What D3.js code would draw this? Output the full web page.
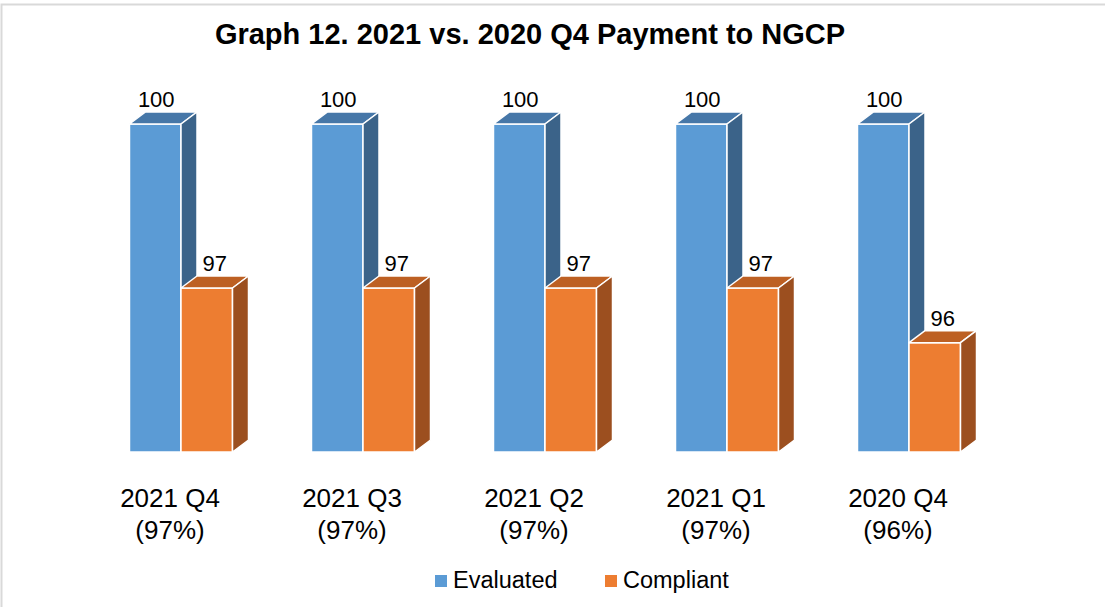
<!DOCTYPE html>
<html>
<head>
<meta charset="utf-8">
<script src="https://cdn.jsdelivr.net/npm/d3@7"></script>
<style>
    html, body { margin: 0; padding: 0; background: #fff; }
    svg { display: block; font-family: "Liberation Sans", Arial, sans-serif; }
</style>
</head>
<body>
<div id="chart"></div>
<script>
// Chart data
const categories = ["2021 Q4", "2021 Q3", "2021 Q2", "2021 Q1", "2020 Q4"];
const subLabels = ["(97%)", "(97%)", "(97%)", "(97%)", "(96%)"];
const seriesNames = ["Evaluated", "Compliant"];
const evaluated = [100, 100, 100, 100, 100];
const compliant = [97, 97, 97, 97, 96];

const width = 1105;
const height = 607;

// face colours per series: front, top, side
const colors = {
    Evaluated: { front: "#5b9bd5", top: "#4677a8", side: "#3b6389" },
    Compliant: { front: "#ed7d31", top: "#bd6023", side: "#9c4f1f" }
};

const depthX = 16;
const depthY = 12;

const svg = d3.select("#chart")
    .append("svg")
    .attr("width", width)
    .attr("height", height);

// outer frame
svg.append("rect")
    .attr("x", 1.5)
    .attr("y", 4.5)
    .attr("width", width + 10)
    .attr("height", height + 10)
    .attr("fill", "none")
    .attr("stroke", "#d9d9d9")
    .attr("stroke-width", 2);

svg.append("text")
    .attr("x", 530)
    .attr("y", 44)
    .attr("text-anchor", "middle")
    .attr("font-size", "29px")
    .attr("font-weight", "bold")
    .text("Graph 12. 2021 vs. 2020 Q4 Payment to NGCP");

// Scales
const x0 = d3.scaleBand()
    .domain(categories)
    .range([90, 1000])
    .paddingInner(0.434)
    .paddingOuter(0.217);

const x1 = d3.scaleBand()
    .domain(seriesNames)
    .range([0, x0.bandwidth()]);

const y = d3.scaleLinear()
    .domain([94, 100])
    .range([452, 124]);

const rows = categories.map((c, i) => ({
    cat: c,
    sub: subLabels[i],
    values: [
        { key: "Evaluated", value: evaluated[i] },
        { key: "Compliant", value: compliant[i] }
    ]
}));

const group = svg.append("g")
    .selectAll("g")
    .data(rows)
    .join("g")
    .attr("transform", d => `translate(${x0(d.cat)},0)`);

const bar = group.selectAll("g.bar")
    .data(d => d.values)
    .join("g")
    .attr("class", "bar");

// front face
bar.append("rect")
    .attr("x", d => x1(d.key))
    .attr("y", d => y(d.value))
    .attr("width", x1.bandwidth())
    .attr("height", d => y(94) - y(d.value))
    .attr("fill", d => colors[d.key].front)
    .attr("stroke", "#fff")
    .attr("stroke-width", 1.5);

// top face
bar.append("path")
    .attr("d", d => {
        const xl = x1(d.key), xr = xl + x1.bandwidth(), yt = y(d.value);
        return `M${xl},${yt}L${xl + depthX},${yt - depthY}L${xr + depthX},${yt - depthY}L${xr},${yt}Z`;
    })
    .attr("fill", d => colors[d.key].top)
    .attr("stroke", "#fff")
    .attr("stroke-width", 1.5)
    .attr("stroke-linejoin", "round");

// side face
bar.append("path")
    .attr("d", d => {
        const xr = x1(d.key) + x1.bandwidth(), yt = y(d.value), yb = y(94);
        return `M${xr},${yt}L${xr + depthX},${yt - depthY}L${xr + depthX},${yb - depthY}L${xr},${yb}Z`;
    })
    .attr("fill", d => colors[d.key].side)
    .attr("stroke", "#fff")
    .attr("stroke-width", 1.5)
    .attr("stroke-linejoin", "round");

// value labels
bar.append("text")
    .attr("x", d => x1(d.key) + x1.bandwidth() / 2 + (d.key === "Compliant" ? depthX / 2 : 1))
    .attr("y", d => y(d.value) - 17)
    .attr("text-anchor", "middle")
    .attr("font-size", "22px")
    .attr("fill", "#000")
    .text(d => d.value);

// category labels
const catLabel = group.append("text")
    .attr("text-anchor", "middle")
    .attr("font-size", "26px")
    .attr("fill", "#000");

catLabel.append("tspan")
    .attr("x", x0.bandwidth() / 2 - 11)
    .attr("y", 507)
    .text(d => d.cat);

catLabel.append("tspan")
    .attr("x", x0.bandwidth() / 2 - 11)
    .attr("y", 539)
    .text(d => d.sub);

// legend
const legendPos = [435, 605];
const legend = svg.append("g")
    .selectAll("g")
    .data(seriesNames)
    .join("g")
    .attr("transform", (d, i) => `translate(${legendPos[i]},0)`);

legend.append("rect")
    .attr("x", 0)
    .attr("y", 575)
    .attr("width", 12)
    .attr("height", 12)
    .attr("fill", d => colors[d].front);

legend.append("text")
    .attr("x", 18)
    .attr("y", 588)
    .attr("font-size", "23.5px")
    .attr("fill", "#000")
    .text(d => d);
</script>
</body>
</html>
